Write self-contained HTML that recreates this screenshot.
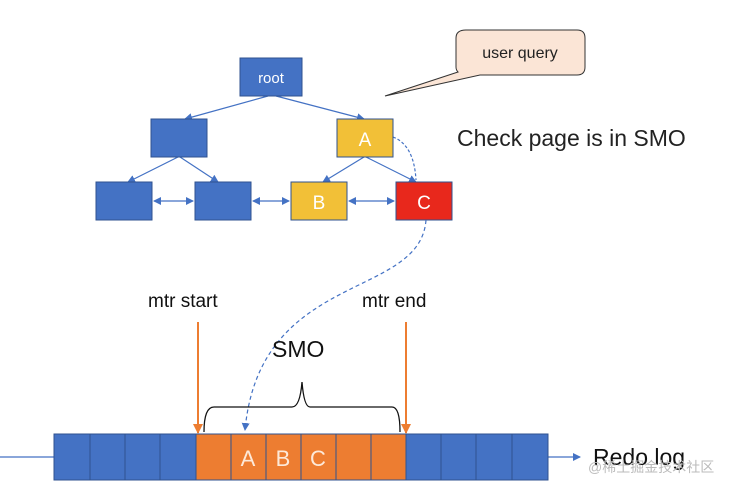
<!DOCTYPE html>
<html><head><meta charset="utf-8"><style>
body{margin:0;background:#fff;width:741px;height:493px;overflow:hidden}
text{font-family:"Liberation Sans","Noto Sans CJK SC",sans-serif}
</style></head><body>
<svg width="741" height="493" viewBox="0 0 741 493">
<defs>
<marker id="ab" markerWidth="8" markerHeight="8" refX="7" refY="4" orient="auto-start-reverse" markerUnits="userSpaceOnUse"><path d="M0,0L8,4L0,8z" fill="#4472c4"/></marker>
<marker id="ao" markerWidth="10" markerHeight="10" refX="9" refY="5" orient="auto" markerUnits="userSpaceOnUse"><path d="M0,0L10,5L0,10z" fill="#ed7d31"/></marker>
</defs>
<path d="M466,30 H577 Q585,30 585,38 V67 Q585,75 577,75 H480 L385,96 L458,72 Q456,70 456,67 V38 Q456,30 466,30Z" fill="#fbe5d6" stroke="#333" stroke-width="1"/>
<text x="520" y="58" font-size="16" text-anchor="middle" fill="#222">user query</text>
<text x="457" y="146" font-size="23" fill="#222">Check page is in SMO</text>
<g stroke="#4472c4" stroke-width="1.2" fill="none" marker-end="url(#ab)">
<line x1="268" y1="96" x2="185" y2="119"/>
<line x1="276" y1="96" x2="364" y2="119"/>
<line x1="178" y1="157" x2="128" y2="182"/>
<line x1="180" y1="157" x2="218" y2="182"/>
<line x1="364" y1="157" x2="323" y2="182"/>
<line x1="366" y1="157" x2="416" y2="182"/>
</g>
<g stroke="#4472c4" stroke-width="1.2" marker-start="url(#ab)" marker-end="url(#ab)">
<line x1="154" y1="201" x2="193" y2="201"/>
<line x1="253" y1="201" x2="289" y2="201"/>
<line x1="349" y1="201" x2="394" y2="201"/>
</g>
<path d="M393,137 Q414,145 416,180" stroke="#4472c4" stroke-dasharray="3,2" fill="none" stroke-width="1.2"/>
<g stroke="#2f528f" stroke-width="1">
<rect x="240" y="58" width="62" height="38" fill="#4472c4"/>
<rect x="151" y="119" width="56" height="38" fill="#4472c4"/>
<rect x="337" y="119" width="56" height="38" fill="#f2c037"/>
<rect x="96" y="182" width="56" height="38" fill="#4472c4"/>
<rect x="195" y="182" width="56" height="38" fill="#4472c4"/>
<rect x="291" y="182" width="56" height="38" fill="#f2c037"/>
<rect x="396" y="182" width="56" height="38" fill="#e8281c"/>
</g>
<g fill="#fff" text-anchor="middle">
<text x="271" y="83" font-size="15">root</text>
<text x="365" y="146" font-size="19">A</text>
<text x="319" y="209" font-size="19">B</text>
<text x="424" y="209" font-size="19">C</text>
</g>
<path d="M426,220 C420,300 260,270 245,430" stroke="#4472c4" stroke-dasharray="4,3" fill="none" stroke-width="1.2" marker-end="url(#ab)"/>
<text x="148" y="307" font-size="19" fill="#111">mtr start</text>
<text x="362" y="307" font-size="19" fill="#111">mtr end</text>
<line x1="198" y1="322" x2="198" y2="433" stroke="#ed7d31" stroke-width="2" marker-end="url(#ao)"/>
<line x1="406" y1="322" x2="406" y2="433" stroke="#ed7d31" stroke-width="2" marker-end="url(#ao)"/>
<text x="272" y="357" font-size="23" fill="#111">SMO</text>
<path d="M204,432 Q204,407 214,407 H292 Q300,407 302,382 Q304,407 310,407 H392 Q400,407 400,432" stroke="#111" stroke-width="1.3" fill="none"/>
<line x1="0" y1="457" x2="54" y2="457" stroke="#4472c4" stroke-width="1.2"/>
<line x1="548" y1="457" x2="580" y2="457" stroke="#4472c4" stroke-width="1.2" marker-end="url(#ab)"/>
<g stroke="#2f528f" stroke-width="1">
<rect x="54" y="434" width="142" height="46" fill="#4472c4"/>
<rect x="196" y="434" width="210" height="46" fill="#ed7d31"/>
<rect x="406" y="434" width="142" height="46" fill="#4472c4"/>
<line x1="90" y1="434" x2="90" y2="480"/><line x1="125" y1="434" x2="125" y2="480"/><line x1="160" y1="434" x2="160" y2="480"/>
<line x1="231" y1="434" x2="231" y2="480"/><line x1="266" y1="434" x2="266" y2="480"/><line x1="301" y1="434" x2="301" y2="480"/><line x1="336" y1="434" x2="336" y2="480"/><line x1="371" y1="434" x2="371" y2="480"/>
<line x1="441" y1="434" x2="441" y2="480"/><line x1="476" y1="434" x2="476" y2="480"/><line x1="512" y1="434" x2="512" y2="480"/>
</g>
<g fill="#fde9d9" font-size="22" text-anchor="middle">
<text x="248" y="466">A</text><text x="283" y="466">B</text><text x="318" y="466">C</text>
</g>
<text x="593" y="465" font-size="23" fill="#111">Redo log</text>
<text x="588" y="472" font-size="14" fill="#bbb">@稀土掘金技术社区</text>
</svg>
</body></html>
